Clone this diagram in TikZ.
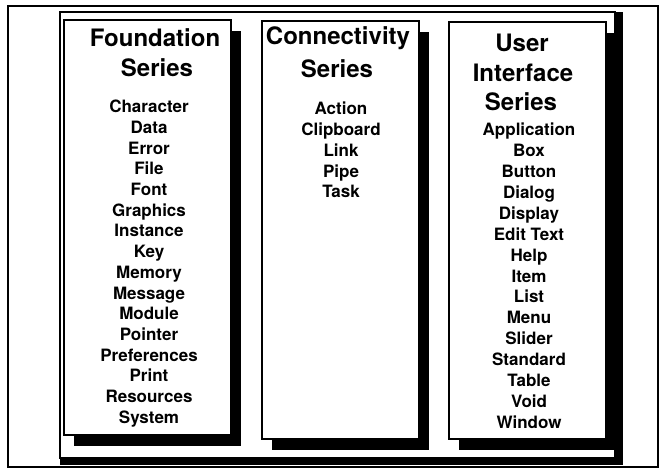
\documentclass[tikz,border=0pt]{standalone}
\usepackage{fontspec}
\setmainfont{TeX Gyre Heros}
\usetikzlibrary{shadows}

\begin{document}
\begin{tikzpicture}[x=1pt, y=-1pt,
  frame/.style={draw, line width=1.3pt},
  column/.style={draw, fill=white, line width=1.6pt, inner sep=0pt,
                 drop shadow={shadow xshift=10pt, shadow yshift=-11pt, fill=black, opacity=1}},
  title/.style={anchor=base, inner sep=0pt, font=\bfseries\fontsize{24}{24}\selectfont},
  entry/.style={anchor=base, inner sep=0pt, font=\bfseries\fontsize{17}{17}\selectfont}
]
\useasboundingbox (0,0) rectangle (664,473);
\draw[frame] (8,6) rectangle (658,467);

% panel with heavy right and bottom edge
\fill (60,12) rectangle (623,465);
\filldraw[fill=white, line width=1.6pt] (60,12) rectangle (615,458);

\node[column, minimum width=167pt, minimum height=415pt] (found) at (147.5,227.5) {};
\node[column, minimum width=157pt, minimum height=418pt] (conn) at (340.5,230) {};
\node[column, minimum width=157pt, minimum height=417pt] (ui) at (527.5,230.5) {};

\node[title] (foundT1) at (155,47) {Foundation};
\node[title] (foundT2) at (157,77) {Series};
\node[title] (connT1) at (338,45) {Connectivity};
\node[title] (connT2) at (337,78) {Series};
\node[title] (uiT1) at (522,52) {User};
\node[title] (uiT2) at (523,82) {Interface};
\node[title] (uiT3) at (521,111) {Series};

\foreach \name [count=\i] in {Character,Data,Error,File,Font,Graphics,Instance,Key,
    Memory,Message,Module,Pointer,Preferences,Print,Resources,System}
  \node[entry] (found\i) at (149,{112.7+20.7*(\i-1)}) {\name};

\foreach \name [count=\i] in {Action,Clipboard,Link,Pipe,Task}
  \node[entry] (conn\i) at (341,{115+20.75*(\i-1)}) {\name};

\foreach \name [count=\i] in {Application,Box,Button,Dialog,Display,Edit Text,Help,Item,
    List,Menu,Slider,Standard,Table,Void,Window}
  \node[entry] (ui\i) at (529,{136+20.86*(\i-1)}) {\name};
\end{tikzpicture}
\end{document}
